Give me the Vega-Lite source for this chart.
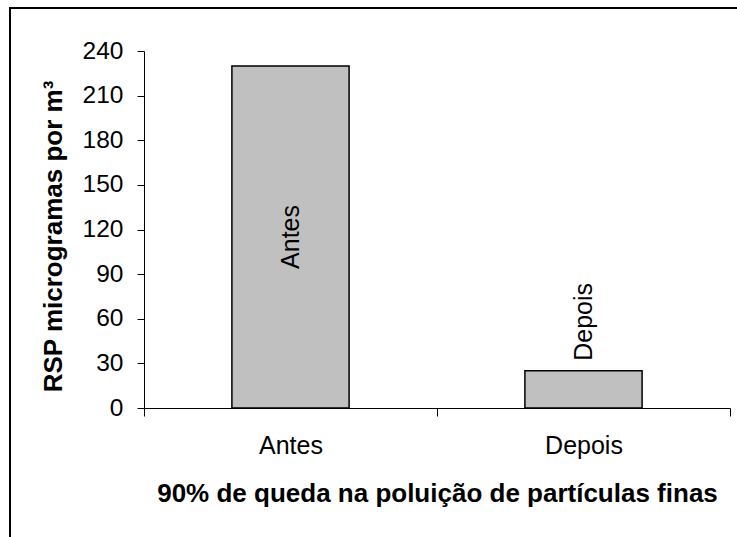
{
  "$schema": "https://vega.github.io/schema/vega-lite/v6.json",
  "width": 727,
  "height": 529,
  "autosize": "none",
  "padding": {"left": 10, "top": 8, "right": 0, "bottom": 0},
  "background": "white",
  "config": {
    "font": "Liberation Sans",
    "view": {"stroke": "black", "strokeWidth": 2, "strokeDash": [727, 1256, 529]}
  },
  "data": {
    "values": [
      {"periodo": "Antes", "valor": 230},
      {"periodo": "Depois", "valor": 25}
    ]
  },
  "encoding": {
    "x": {
      "field": "periodo",
      "type": "nominal",
      "sort": null,
      "scale": {"range": [134, 720], "paddingInner": 0, "paddingOuter": 0},
      "axis": {
        "title": "90% de queda na poluição de partículas finas",
        "titleFontSize": 26,
        "titleFontWeight": "bold",
        "titleColor": "black",
        "titlePadding": 22,
        "labelAngle": 0,
        "labelFontSize": 25,
        "labelColor": "black",
        "labelPadding": 17,
        "tickBand": "extent",
        "tickSize": 8,
        "tickColor": "black",
        "domainColor": "black",
        "offset": -129
      }
    },
    "y": {
      "field": "valor",
      "type": "quantitative",
      "scale": {"domain": [0, 240], "range": [400, 43], "nice": false},
      "axis": {
        "title": "RSP microgramas por m³",
        "titleFontSize": 26,
        "titleFontWeight": "bold",
        "titleColor": "black",
        "titlePadding": 16,
        "titleY": 228,
        "values": [0, 30, 60, 90, 120, 150, 180, 210, 240],
        "labelFontSize": 24.5,
        "labelColor": "black",
        "labelPadding": 14,
        "tickSize": 7,
        "tickColor": "black",
        "domainColor": "black",
        "grid": false,
        "offset": -134
      }
    }
  },
  "layer": [
    {
      "mark": {"type": "bar", "width": {"band": 0.4}, "fill": "#C0C0C0", "stroke": "black", "strokeWidth": 1.5}
    },
    {
      "transform": [
        {"filter": "datum.periodo === 'Antes'"},
        {"calculate": "datum.valor / 2", "as": "meio"}
      ],
      "mark": {"type": "text", "angle": 270, "align": "center", "baseline": "middle", "fontSize": 25, "color": "black"},
      "encoding": {
        "y": {"field": "meio", "type": "quantitative"},
        "text": {"field": "periodo"}
      }
    },
    {
      "transform": [{"filter": "datum.periodo === 'Depois'"}],
      "mark": {"type": "text", "angle": 270, "align": "left", "baseline": "middle", "dx": 10, "fontSize": 25, "color": "black"},
      "encoding": {
        "text": {"field": "periodo"}
      }
    }
  ]
}
